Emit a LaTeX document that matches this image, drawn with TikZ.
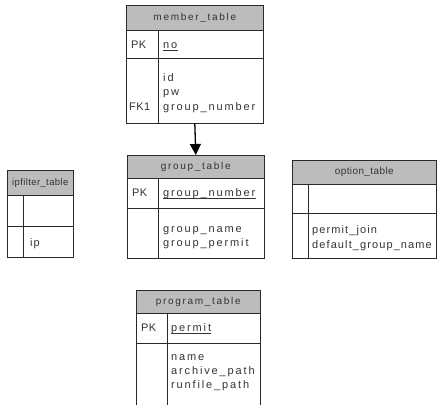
\documentclass[tikz,border=0pt]{standalone}
\usepackage{fontspec}
\setmainfont{Liberation Sans}
% spaced-out lettering for the central tables, tighter for the side ones
\newfontfamily\widefont{Liberation Sans}[LetterSpace=17]
\newfontfamily\midfont{Liberation Sans}[LetterSpace=10]
\newfontfamily\tightfont{Liberation Sans}[LetterSpace=4]
\usetikzlibrary{arrows.meta}
\definecolor{lineclr}{HTML}{2A2A2A}
\definecolor{hdrfill}{HTML}{BCBCBC}
\definecolor{txtclr}{HTML}{333333}
\tikzset{
  box/.style={draw=lineclr, line width=0.6pt, inner sep=0pt, anchor=north west},
  hdr/.style={box, fill=hdrfill, text=txtclr, font=\widefont\fontsize{10}{12}\selectfont},
  hdrtight/.style={hdr, font=\tightfont\fontsize{10}{12}\selectfont},
  lbl/.style={inner sep=0pt, anchor=base west, text=txtclr, font=\widefont\fontsize{11}{12}\selectfont},
  lbltight/.style={lbl, font=\midfont\fontsize{11}{12}\selectfont},
  key/.style={lbl, font=\tightfont\fontsize{11}{12}\selectfont},
  divider/.style={draw=lineclr, line width=0.6pt},
  uline/.style={draw=txtclr, line width=0.5pt},
  link/.style={draw=black, line width=1.3pt, -{Triangle[length=11pt,width=11pt]}}
}
\begin{document}
\begin{tikzpicture}[x=1pt,y=-1pt]
\useasboundingbox (0,0) rectangle (437,405);

% member_table
\node[hdr, minimum width=137pt, minimum height=25pt] (mhead) at (126,5) {member\_table};
\node[box, minimum width=137pt, minimum height=28pt] (mkey) at (126,30) {};
\node[box, minimum width=137pt, minimum height=65pt] (mattr) at (126,58) {};
\draw[divider] ([xshift=32pt]mkey.north west) -- ([xshift=32pt]mattr.south west);
\node[key] (mpk) at (131,48) {PK};
\node[lbl] (mno) at (163,48) {no};
\draw[uline] ([yshift=-2pt]mno.base west) -- ([yshift=-2pt]mno.base east);
\node[lbl] (mid) at (163,81) {id};
\node[lbl] (mpw) at (163,95) {pw};
\node[lbl] (mgn) at (163,110) {group\_number};
\node[key] (mfk) at (129,110) {FK1};

% group_table
\node[hdr, minimum width=137pt, minimum height=23pt] (ghead) at (127,155) {group\_table};
\node[box, minimum width=137pt, minimum height=30pt] (gkey) at (127,178) {};
\node[box, minimum width=137pt, minimum height=50pt] (gattr) at (127,208) {};
\draw[divider] ([xshift=31pt]gkey.north west) -- ([xshift=31pt]gattr.south west);
\node[key] (gpk) at (132,196) {PK};
\node[lbl] (ggn) at (163,196) {group\_number};
\draw[uline] ([yshift=-2pt]ggn.base west) -- ([yshift=-2pt]ggn.base east);
\node[lbl] (ggname) at (163,232) {group\_name};
\node[lbl] (ggperm) at (163,246) {group\_permit};

% reference from member_table to group_table
\draw[link] (mattr.south) -- (ghead.north);

% ipfilter_table
\node[hdrtight, minimum width=66pt, minimum height=25pt, font=\tightfont\fontsize{9.5}{12}\selectfont] (ihead) at (7,170) {ipfilter\_table};
\node[box, minimum width=66pt, minimum height=31pt] (ikey) at (7,195) {};
\node[box, minimum width=66pt, minimum height=31pt] (iattr) at (7,226) {};
\draw[divider] ([xshift=16pt]ikey.north west) -- ([xshift=16pt]iattr.south west);
\node[lbltight] (iip) at (30,246) {ip};

% option_table
\node[hdrtight, minimum width=144pt, minimum height=24pt] (ohead) at (292,160) {option\_table};
\node[box, minimum width=144pt, minimum height=29pt] (okey) at (292,184) {};
\node[box, minimum width=144pt, minimum height=45pt] (oattr) at (292,213) {};
\draw[divider] ([xshift=16pt]okey.north west) -- ([xshift=16pt]oattr.south west);
\node[lbltight] (ojoin) at (312,233) {permit\_join};
\node[lbltight] (odef) at (312,248) {default\_group\_name};

% program_table (runs past the lower edge)
\node[hdr, minimum width=124pt, minimum height=23pt] (phead) at (136,290) {program\_table};
\node[box, minimum width=124pt, minimum height=30pt] (pkey) at (136,313) {};
\node[inner sep=0pt, anchor=north west, minimum width=124pt, minimum height=62pt] (pattr) at (136,343) {};
\draw[divider] (pattr.south west) -- (pattr.north west);
\draw[divider] (pattr.south east) -- (pattr.north east);
\draw[divider] ([xshift=31pt]pkey.north west) -- ([xshift=31pt]pattr.south west);
\node[key] (ppk) at (141,331) {PK};
\node[lbl] (ppermit) at (171,331) {permit};
\draw[uline] ([yshift=-2pt]ppermit.base west) -- ([yshift=-2pt]ppermit.base east);
\node[lbl] (pname) at (171,360) {name};
\node[lbl] (parch) at (171,374) {archive\_path};
\node[lbl] (prun) at (171,388) {runfile\_path};
\end{tikzpicture}
\end{document}
